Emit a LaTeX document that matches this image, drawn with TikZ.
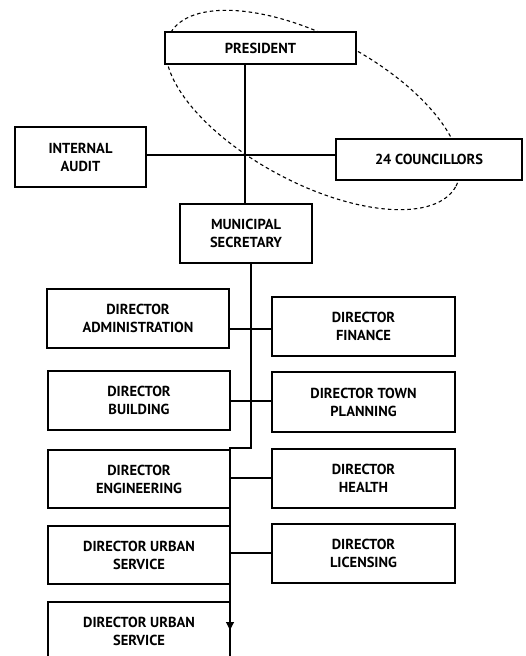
\documentclass[tikz,border=0pt]{standalone}
\usepackage{fontspec}
\setmainfont{PT Sans}
\usetikzlibrary{arrows.meta}
\tikzset{
  box/.style={draw=black, line width=1.3pt, fill=white, align=center, inner sep=0pt,
    font=\bfseries\fontsize{14.5}{18}\selectfont},
  link/.style={draw=black, line width=1.1pt},
}
\begin{document}
\begin{tikzpicture}[x=1pt,y=-1pt]
\useasboundingbox (0,0) rectangle (526,656);
\fill[white] (0,0) rectangle (526,656);
% ellipse
\draw[dash pattern=on 3.5pt off 3pt, line width=1.1pt, rotate around={-28:(313,110)}] (313,110) ellipse [x radius=162pt, y radius=73pt];
% nodes
\node[box, minimum width=191pt, minimum height=32pt] (pres) at (260.5,48) {PRESIDENT};
\node[box, minimum width=131pt, minimum height=60pt] (ia) at (80.5,157) {INTERNAL\\AUDIT};
\node[box, minimum width=186pt, minimum height=41pt] (co) at (429,159.5) {24 COUNCILLORS};
\node[box, minimum width=132pt, minimum height=59pt] (ms) at (246,233.5) {MUNICIPAL\\SECRETARY};
\node[box, minimum width=182pt, minimum height=59pt] (da) at (138,318.5) {DIRECTOR\\ADMINISTRATION};
\node[box, minimum width=183pt, minimum height=59pt] (df) at (363.5,326.5) {DIRECTOR\\FINANCE};
\node[box, minimum width=182pt, minimum height=59pt] (db) at (139,400.5) {DIRECTOR\\BUILDING};
\node[box, minimum width=183pt, minimum height=60pt] (dtp) at (363.5,402) {DIRECTOR TOWN\\PLANNING};
\node[box, minimum width=182pt, minimum height=58pt] (de) at (139,479) {DIRECTOR\\ENGINEERING};
\node[box, minimum width=183pt, minimum height=59pt] (dh) at (363.5,478.5) {DIRECTOR\\HEALTH};
\node[box, minimum width=182pt, minimum height=58pt] (dus) at (139,555) {DIRECTOR URBAN\\SERVICE};
\node[box, minimum width=183pt, minimum height=59pt] (dl) at (363.5,553.5) {DIRECTOR\\LICENSING};
\node[box, minimum width=182pt, minimum height=58pt] (dus2) at (139,631) {DIRECTOR URBAN\\SERVICE};
% coordinates
\coordinate (j) at (245,155);
\coordinate (s1) at (251,263);
\coordinate (b1) at (251,448);
\coordinate (b2) at (230,448);
\coordinate (ar) at (230,630);
\coordinate (end) at (230,656);
% connectors
\draw[link] (pres.south -| j) -- (ms.north -| j);
\draw[link] (ia.east |- j) -- (co.west |- j);
\draw[link] (s1) -- (b1) -- (b2) -- (ar);
\draw[link, -{Triangle[length=8pt,width=8pt]}] (b2) -- (ar);
\draw[link] (ar) -- (end);
\draw[link] (da.east |- 0,329) -- (df.west |- 0,329);
\draw[link] (db.east |- 0,401) -- (dtp.west |- 0,401);
\draw[link] (de.east |- 0,478) -- (dh.west |- 0,478);
\draw[link] (dus.east |- 0,553) -- (dl.west |- 0,553);
\end{tikzpicture}
\end{document}
